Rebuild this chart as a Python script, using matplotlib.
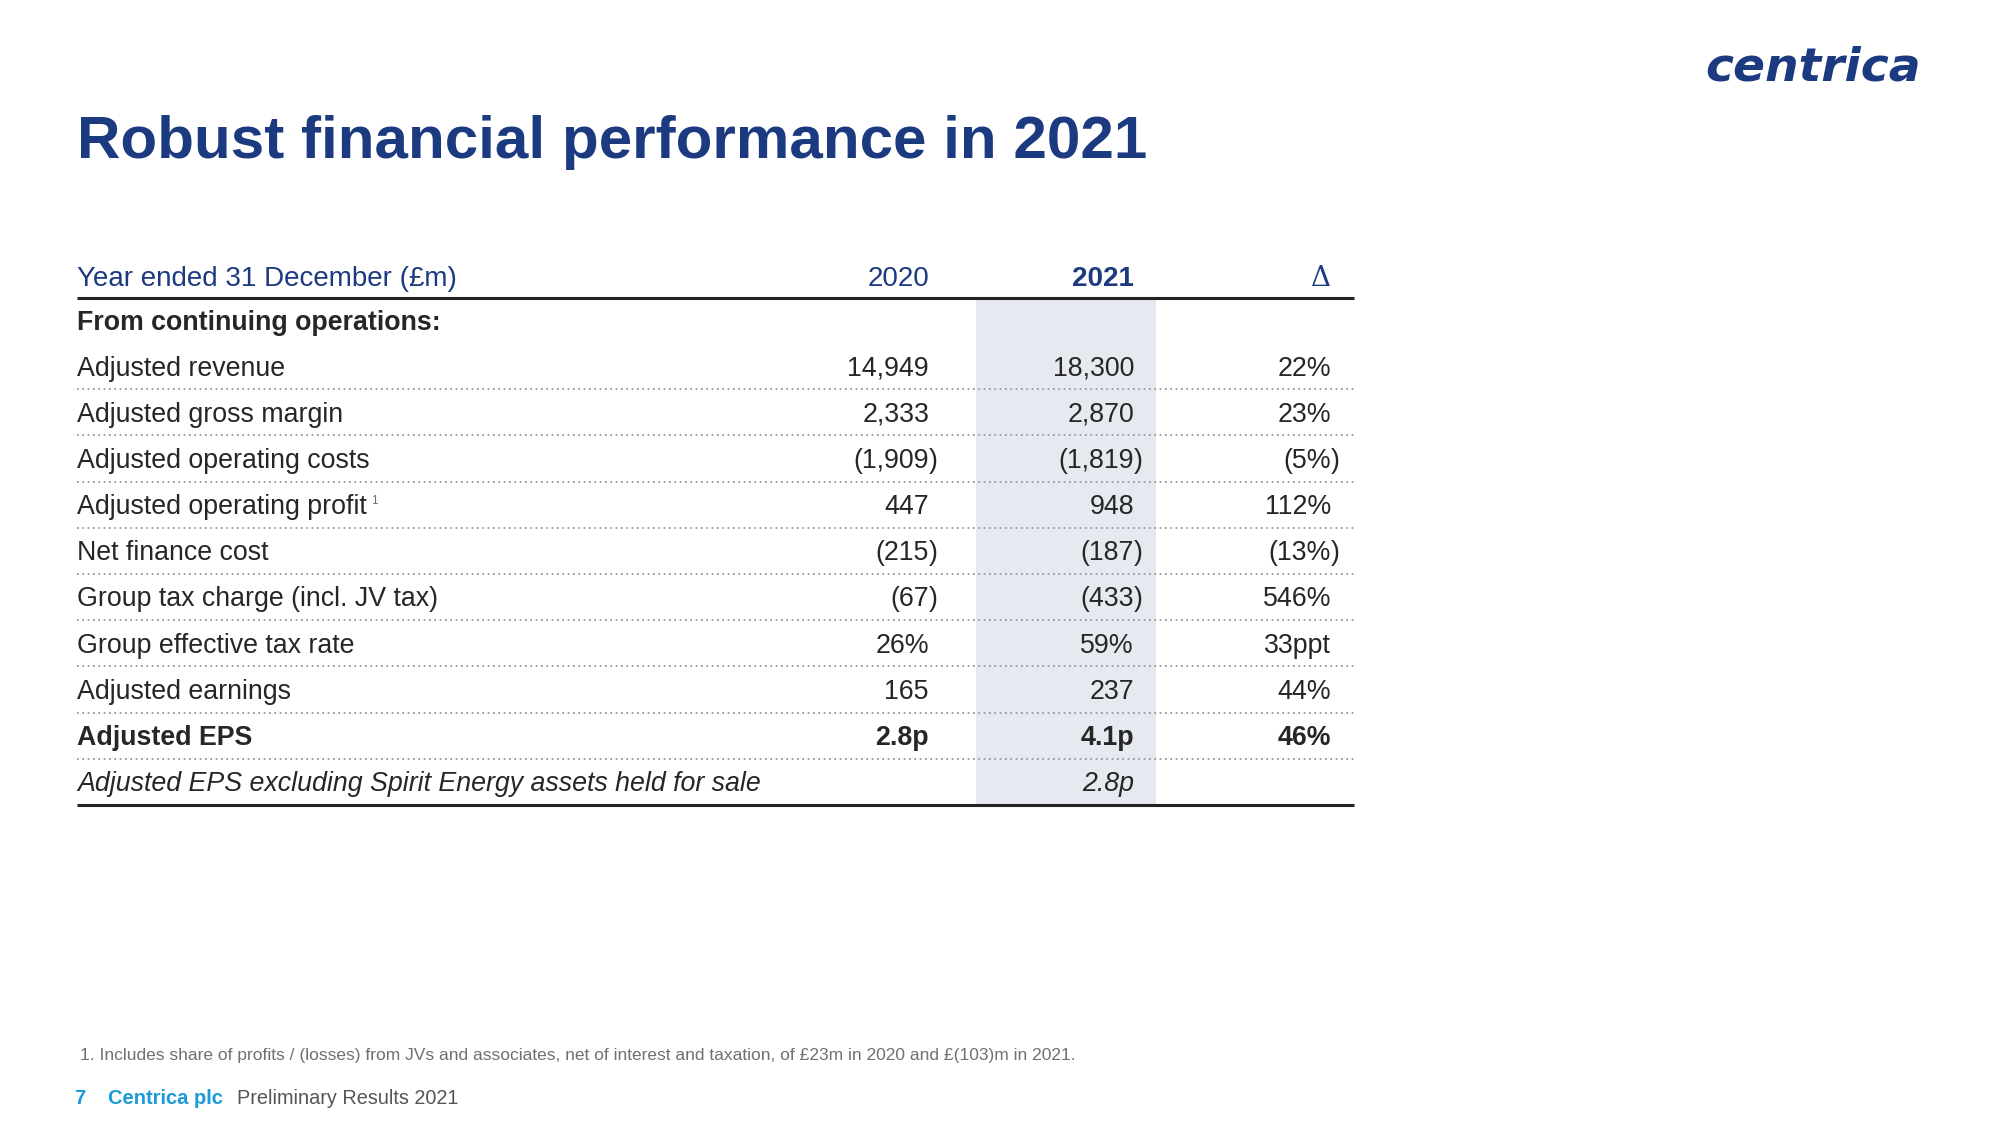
import matplotlib
matplotlib.use("Agg")
import matplotlib.pyplot as plt
from matplotlib.patches import Rectangle

# ---- data ----
title = "Robust financial performance in 2021"
header_label = "Year ended 31 December (£m)"
col_headers = ["2020", "2021", "\u0394"]
section_label = "From continuing operations:"
row_labels = [
    "Adjusted revenue",
    "Adjusted gross margin",
    "Adjusted operating costs",
    "Adjusted operating profit",
    "Net finance cost",
    "Group tax charge (incl. JV tax)",
    "Group effective tax rate",
    "Adjusted earnings",
    "Adjusted EPS",
    "Adjusted EPS excluding Spirit Energy assets held for sale",
]
vals_2020 = ["14,949", "2,333", "(1,909)", "447", "(215)", "(67)", "26%", "165", "2.8p", ""]
vals_2021 = ["18,300", "2,870", "(1,819)", "948", "(187)", "(433)", "59%", "237", "4.1p", "2.8p"]
vals_delta = ["22%", "23%", "(5%)", "112%", "(13%)", "546%", "33ppt", "44%", "46%", ""]
footnote = ("1. Includes share of profits / (losses) from JVs and associates, net of interest "
            "and taxation, of £23m in 2020 and £(103)m in 2021.")
footer_num = "7"
footer_company = "Centrica plc"
footer_doc = "Preliminary Results 2021"
logo = "centrica"

# ---- styling ----
NAVY = "#1c3a80"
TXT = "#262626"
GREY = "#707070"
BLUE = "#1a9bd7"
SHADE = "#e6e9f0"
FONT = ["Liberation Sans", "DejaVu Sans"]
NARROW = ["Liberation Sans Narrow", "Liberation Sans", "DejaVu Sans"]

plt.rcParams["font.family"] = FONT

fig = plt.figure(figsize=(20, 11.25), dpi=100)
ax = fig.add_axes([0, 0, 1, 1])
ax.set_xlim(0, 2000)
ax.set_ylim(1125, 0)
ax.axis("off")

# logo
ax.text(1921, 68, logo, ha="right", va="center", color=NAVY, fontsize=34,
        family=["DejaVu Sans"], weight="bold", style="italic")

# title
ax.text(77, 142, title, ha="left", va="center", color=NAVY, fontsize=43.3,
        weight="bold")

# table geometry
x_left, x_right = 77, 1354
col_x = [929, 1134, 1331]
header_y = 278.5
hline_y = 298
section_y = 322.5
row0_y = 368.5
pitch = 46.2
fs = 19.3
n = len(row_labels)
bottom_y = 805

# shaded 2021 column
ax.add_patch(Rectangle((976, hline_y + 2), 1156 - 976, bottom_y - hline_y - 3,
                       facecolor=SHADE, edgecolor="none", zorder=0))

# header
ax.text(x_left, header_y, header_label, ha="left", va="center", color=NAVY, fontsize=20)
ax.text(col_x[0], header_y, col_headers[0], ha="right", va="center", color=NAVY, fontsize=20)
ax.text(col_x[1], header_y, col_headers[1], ha="right", va="center", color=NAVY, fontsize=20,
        weight="bold")
ax.text(col_x[2], header_y, col_headers[2], ha="right", va="center", color=NAVY, fontsize=20,
        family=["DejaVu Serif"])
ax.plot([x_left, x_right], [hline_y, hline_y], color="#222222", lw=2.2, solid_capstyle="butt")

ax.text(x_left, section_y, section_label, ha="left", va="center", color=TXT, fontsize=fs,
        weight="bold")


def put_value(x, y, s, **kw):
    if not s:
        return
    if s.endswith(")"):
        ax.text(x, y, s[:-1], ha="right", va="center", **kw)
        ax.text(x, y, ")", ha="left", va="center", **kw)
    else:
        ax.text(x, y, s, ha="right", va="center", **kw)


for i, lab in enumerate(row_labels):
    y = row0_y + i * pitch
    kw = dict(color=TXT, fontsize=fs)
    if i == n - 2:
        kw["weight"] = "bold"
    if i == n - 1:
        kw["style"] = "italic"
    t = ax.text(x_left, y, lab, ha="left", va="center", **kw)
    if i == 3:
        ax.annotate("1", xy=(1, 0.75), xycoords=t, xytext=(3, 0), textcoords="offset points",
                    ha="left", va="center", fontsize=8.5, color=GREY)
    put_value(col_x[0], y, vals_2020[i], **kw)
    put_value(col_x[1], y, vals_2021[i], **kw)
    put_value(col_x[2], y, vals_delta[i], **kw)
    if i < n - 1:
        ly = row0_y - 2.5 + (i + 0.5) * pitch
        ax.plot([x_left, x_right], [ly, ly], color="#8a8a8a", lw=1.2,
                linestyle=(0, (1, 2.2)))

ax.plot([x_left, x_right], [bottom_y, bottom_y], color="#222222", lw=2.2, solid_capstyle="butt")

# footnote
ax.text(80, 1055.5, footnote, ha="left", va="center", color=GREY, fontsize=12.5, family=NARROW)

# footer
ax.text(74, 1099, footer_num, ha="left", va="center", color=BLUE, fontsize=14.5,
        weight="bold", family=NARROW)
ax.text(108, 1099, footer_company, ha="left", va="center", color=BLUE, fontsize=14.5,
        weight="bold", family=NARROW)
ax.text(237, 1099, footer_doc, ha="left", va="center", color="#555555", fontsize=14.3,
        family=NARROW)

fig.savefig("out.png", dpi=100, facecolor="white")
